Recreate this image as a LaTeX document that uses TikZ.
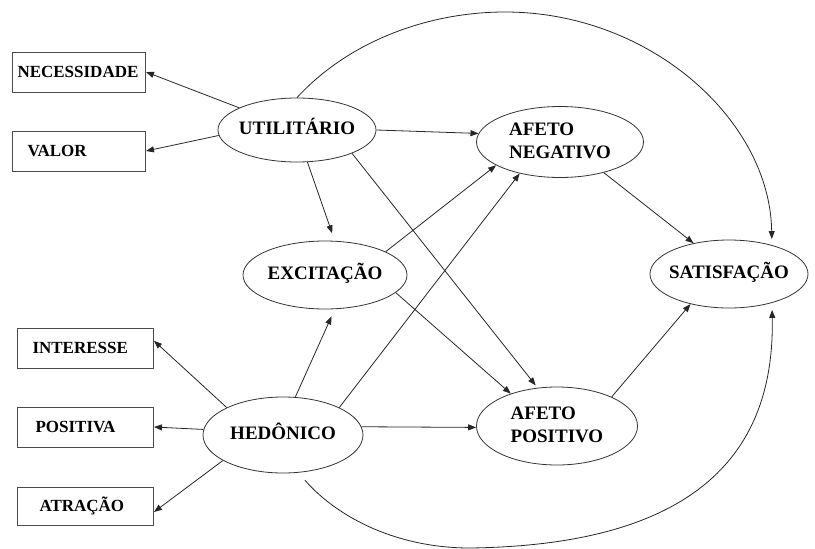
\documentclass[tikz,border=0pt]{standalone}
\usepackage{fontspec}
\setmainfont{Liberation Serif}
\usetikzlibrary{arrows.meta,shapes.geometric}

% fonts for indicator boxes and construct ellipses
\newcommand\boxlabelfont{\fontsize{17}{20}\selectfont\bfseries}
\newcommand\elllabelfont{\fontsize{19}{23}\selectfont\bfseries}
% zero-width label so the ellipse keeps its given size
\newcommand\inellipse[1]{\makebox[0pt]{\begin{tabular}{@{}l@{}}#1\end{tabular}}}

\begin{document}
\begin{tikzpicture}[x=1pt,y=-1pt,
  item/.style={draw=black!70, line width=1pt, rectangle, anchor=west,
    minimum height=40pt, inner ysep=0pt, align=left, font=\boxlabelfont},
  construct/.style={draw=black!80, line width=0.8pt, ellipse, inner sep=0pt,
    font=\elllabelfont},
  link/.style={draw=black!85, line width=0.8pt,
    -{Triangle[length=8pt,width=6pt]}}]

\useasboundingbox (0,0) rectangle (815,549);

% indicators
\node[item, text width=123pt, inner xsep=5pt]  (nec) at (12,72)  {NECESSIDADE};
\node[item, text width=103pt, inner xsep=15pt] (val) at (12,151) {VALOR};
\node[item, text width=106pt, inner xsep=15pt] (int) at (17,348) {INTERESSE};
\node[item, text width=100pt, inner xsep=18pt] (pos) at (17,427) {POSITIVA};
\node[item, text width=92pt, inner xsep=22pt, minimum height=38pt] (atr) at (17,506) {ATRAÇÃO};

% constructs
\node[construct, minimum width=158pt, minimum height=64pt] (util) at (297,130) {\inellipse{UTILITÁRIO}};
\node[construct, minimum width=164pt, minimum height=68pt] (exc)  at (325,275) {\inellipse{EXCITAÇÃO}};
\node[construct, minimum width=160pt, minimum height=76pt] (hed)  at (283,435) {\inellipse{HEDÔNICO}};
\node[construct, minimum width=167pt, minimum height=71pt] (neg)  at (560,142) {\inellipse{AFETO\\NEGATIVO}};
\node[construct, minimum width=161pt, minimum height=78pt] (apos) at (557,426) {\inellipse{AFETO\\POSITIVO}};
\node[construct, minimum width=158pt, minimum height=68pt] (sat)  at (729,274) {\inellipse{SATISFAÇÃO}};

% utilitarian paths
\draw[link] (util.159) -- (nec.east);
\draw[link] (util.184) -- (val.east);
\draw[link] (util.east) -- (neg.174);
\draw[link, shorten >=8pt] (util.288) -- (exc.74);
\draw[link, shorten >=3pt] (util.-23) -- (apos.117);

% arousal paths
\draw[link] (exc.21) -- (neg.200);
\draw[link] (exc.-14) -- (apos.145);

% hedonic paths
\draw[link, shorten >=8pt] (hed.72) -- (exc.-74);
\draw[link] (hed.26) -- (neg.218);
\draw[link] (hed.6) -- (apos.181);
\draw[link] (hed.154) -- (int.6);
\draw[link] (hed.176) -- (pos.east);
\draw[link] (hed.203) -- (atr.-5);

% affect to satisfaction
\draw[link] (neg.-35) -- (sat.139);
\draw[link] (apos.28) -- (sat.218);

% direct effects on satisfaction
\coordinate (topArc) at (505,12);
\coordinate (lowArc) at (470,548);
\draw[link, shorten >=6pt] (util.north) .. controls (350,40) and (430,12) .. (topArc)
  .. controls (650,12) and (770,120) .. (sat.34);
\draw[link, shorten <=10pt, shorten >=7pt] (hed.-68) .. controls (340,520) and (400,548) .. (lowArc)
  .. controls (700,545) and (775,450) .. (sat.-34);

\end{tikzpicture}
\end{document}
